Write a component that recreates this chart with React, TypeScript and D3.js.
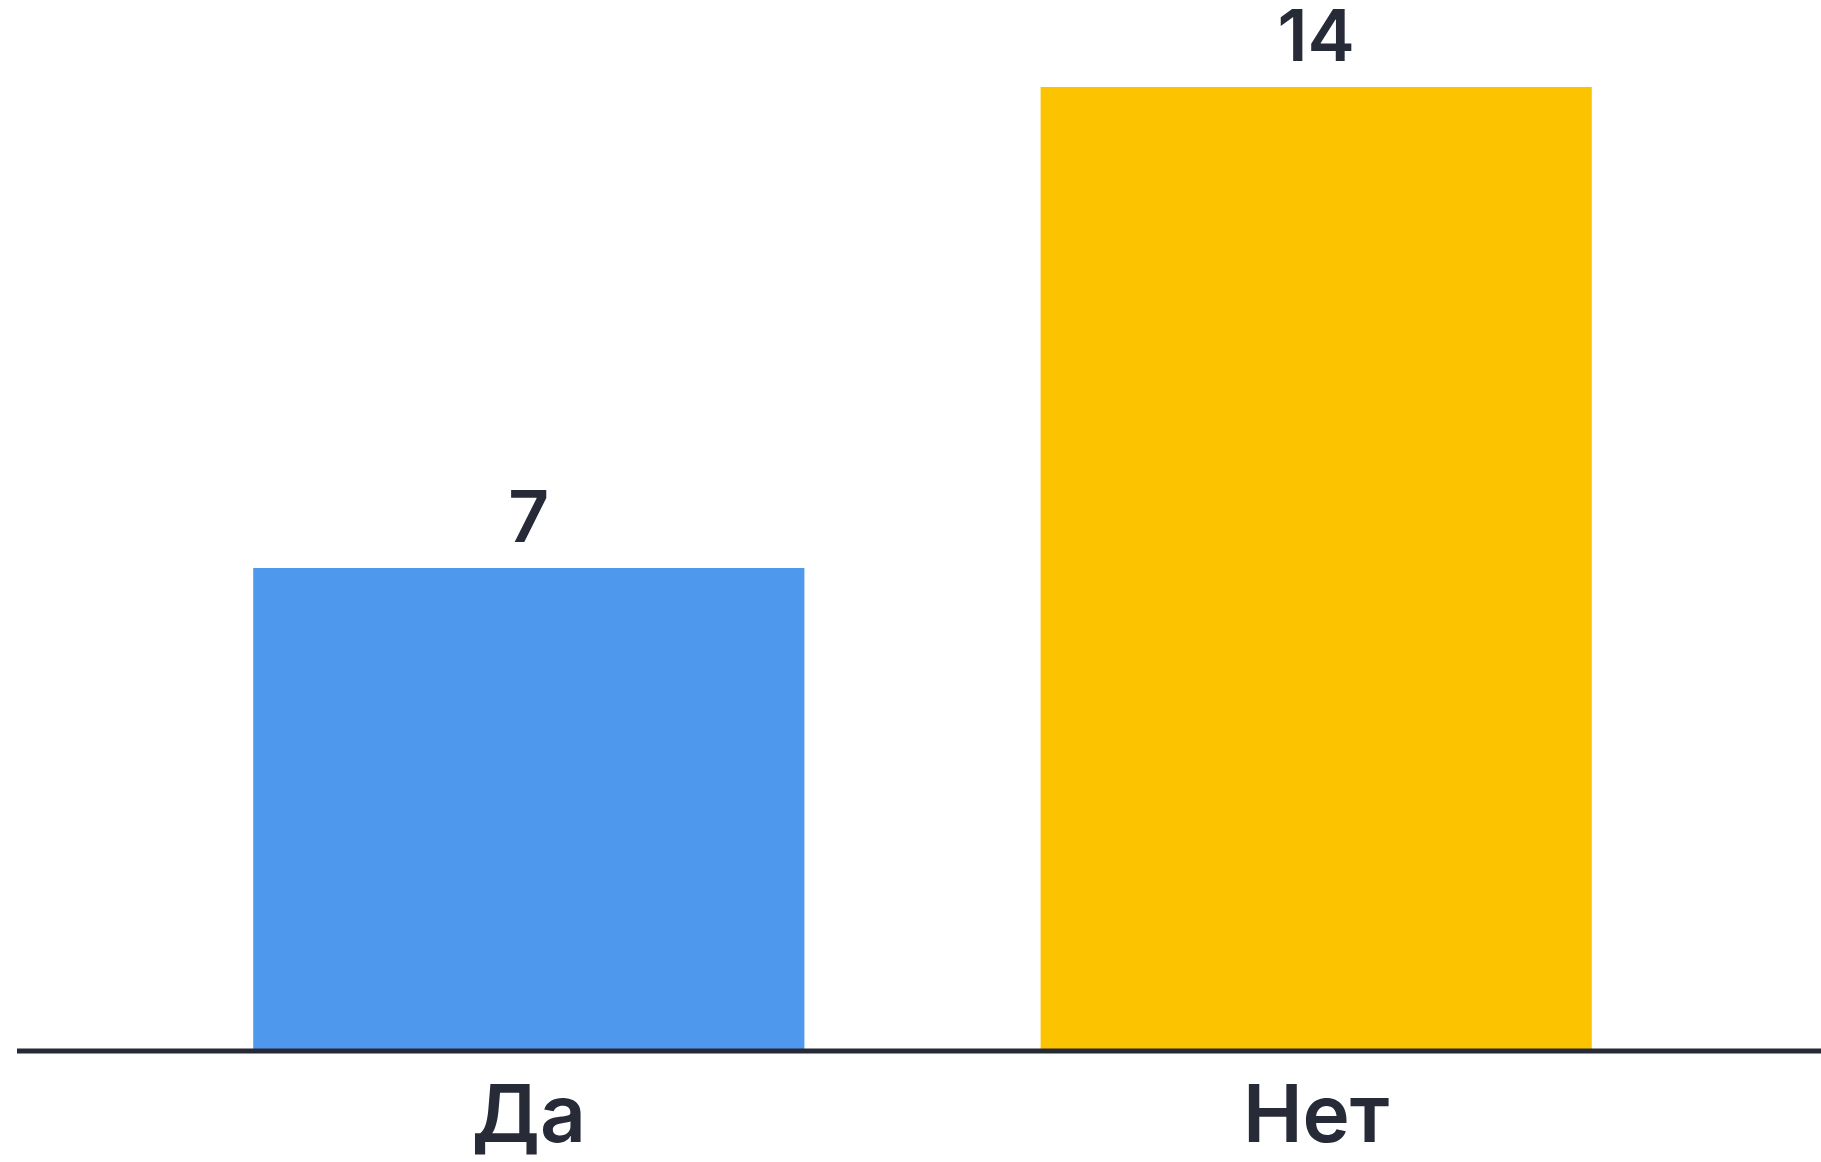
import React from "react";
import * as d3 from "d3";

const categories: string[] = ["Да", "Нет"];
const values: number[] = [7, 14];
const colors: string[] = ["#4e98ee", "#fcc300"];

const W = 1821;
const H = 1162;
const BASE = 1049;
const FONT = "Inter, 'Noto Sans', sans-serif";
const TEXT = "#272b37";

export default function App() {
  const x = d3
    .scaleBand<string>()
    .domain(categories)
    .range([17, 1828])
    .paddingInner(0.3)
    .paddingOuter(0.3);
  const y = d3.scaleLinear().domain([0, 14]).range([BASE, 87]);

  return (
    <svg
      width={W}
      height={H}
      style={{ position: "absolute", left: 0, top: 0, background: "#fff" }}
    >
      {categories.map((c, i) => (
        <g key={c}>
          <rect
            x={x(c)!}
            y={y(values[i])}
            width={x.bandwidth()}
            height={BASE - y(values[i])}
            fill={colors[i]}
          />
          <text
            x={x(c)! + x.bandwidth() / 2}
            y={y(values[i]) - 26}
            textAnchor="middle"
            fontFamily={FONT}
            fontWeight={600}
            fontSize={71}
            fill={TEXT}
          >
            {values[i]}
          </text>
          <text
            x={x(c)! + x.bandwidth() / 2}
            y={1142}
            textAnchor="middle"
            fontFamily={FONT}
            fontWeight={600}
            fontSize={80}
            fill={TEXT}
          >
            {c}
          </text>
        </g>
      ))}
      <line x1={17} x2={W} y1={1051} y2={1051} stroke="#262a36" strokeWidth={5} />
    </svg>
  );
}
